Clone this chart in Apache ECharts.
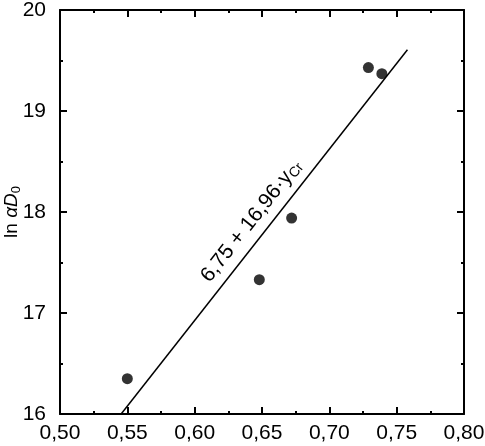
<!DOCTYPE html>
<html>
<head>
<meta charset="utf-8">
<script src="https://cdn.jsdelivr.net/npm/echarts@6/dist/echarts.min.js"></script>
<style>
  html, body { margin: 0; padding: 0; background: #fff; }
  #main { width: 485px; height: 446px; }
</style>
</head>
<body>
<div id="main"></div>
<script>
// measured points (y_Cr, ln aD0)
var yCr = [0.550, 0.648, 0.672, 0.729, 0.739];
var lnAD = [16.35, 17.33, 17.94, 19.43, 19.37];
// fit line 6.75 + 16.96*y_Cr, drawn between these x values
var fitX = [0.5454, 0.758];
var fitA = 6.75, fitB = 16.96;
var xTicks = ['0,50', '0,55', '0,60', '0,65', '0,70', '0,75', '0,80'];

var font = "'Liberation Sans', Arial, sans-serif";

var chart = echarts.init(document.getElementById('main'));

var pts = yCr.map(function (x, i) { return [x, lnAD[i]]; });
var fitLine = fitX.map(function (x) { return [x, fitA + fitB * x]; });

function axisBase(show) {
  return {
    axisLine: { show: true, lineStyle: { color: '#000', width: 2 } },
    axisTick: { show: true, inside: true, length: 7, lineStyle: { color: '#000', width: 2 } },
    minorTick: { show: true, splitNumber: 2, length: 3, lineStyle: { color: '#000', width: 2 } },
    splitLine: { show: false },
    axisLabel: { show: show, color: '#000', fontFamily: font, fontSize: 21 }
  };
}

var xb = Object.assign(axisBase(true), {
  type: 'value', min: 0.5, max: 0.8, interval: 0.05, position: 'bottom'
});
xb.axisLabel.margin = 9;
xb.axisLabel.formatter = function (v) {
  return xTicks[Math.round((v - 0.5) / 0.05)];
};
var xt = Object.assign(axisBase(false), {
  type: 'value', min: 0.5, max: 0.8, interval: 0.05, position: 'top'
});
var yl = Object.assign(axisBase(true), {
  type: 'value', min: 16, max: 20, interval: 1, position: 'left',
  name: '{n|ln }{a|α}{d|D}{s|0}', nameLocation: 'middle', nameGap: 37, nameRotate: 90,
  nameMoveOverlap: false,
  nameTextStyle: {
    rich: {
      n: { fontFamily: font, fontSize: 19, color: '#000' },
      a: { fontFamily: font, fontSize: 19, fontStyle: 'italic', color: '#000' },
      d: { fontFamily: font, fontSize: 19, fontStyle: 'italic', color: '#000' },
      s: { fontFamily: font, fontSize: 13, color: '#000', padding: [10, 0, 0, 0] }
    }
  }
});
yl.axisLabel.margin = 14;
var yr = Object.assign(axisBase(false), {
  type: 'value', min: 16, max: 20, interval: 1, position: 'right'
});

chart.setOption({
  animation: false,
  backgroundColor: '#fff',
  grid: { left: 60, right: 21, top: 10, bottom: 32, containLabel: false, outerBoundsMode: 'none' },
  xAxis: [xb, xt],
  yAxis: [yl, yr],
  series: [
    {
      type: 'line',
      data: fitLine,
      symbol: 'none',
      lineStyle: { color: '#000', width: 1.5 },
      z: 2
    },
    {
      type: 'scatter',
      data: pts,
      symbol: 'circle',
      symbolSize: 11,
      itemStyle: { color: '#000' },
      z: 3
    }
  ]
});

// equation label along the fit line
var lx = 0.652;
var p = chart.convertToPixel({ xAxisIndex: 0, yAxisIndex: 0 }, [lx, fitA + fitB * lx]);
var p2 = chart.convertToPixel({ xAxisIndex: 0, yAxisIndex: 0 }, [lx + 0.01, fitA + fitB * (lx + 0.01)]);
var ang = Math.atan2(p[1] - p2[1], p2[0] - p[0]);
var off = 17;
chart.setOption({
  graphic: [{
    type: 'text',
    x: p[0] - off * Math.sin(ang),
    y: p[1] - off * Math.cos(ang),
    rotation: ang,
    style: {
      text: '{n|6,75 + 16,96·y}{s|Cr}',
      align: 'center',
      verticalAlign: 'middle',
      rich: {
        n: { fontFamily: font, fontSize: 21, fill: '#000' },
        s: { fontFamily: font, fontSize: 14, fill: '#000', padding: [9, 0, 0, 0] }
      }
    }
  }]
});
</script>
</body>
</html>
